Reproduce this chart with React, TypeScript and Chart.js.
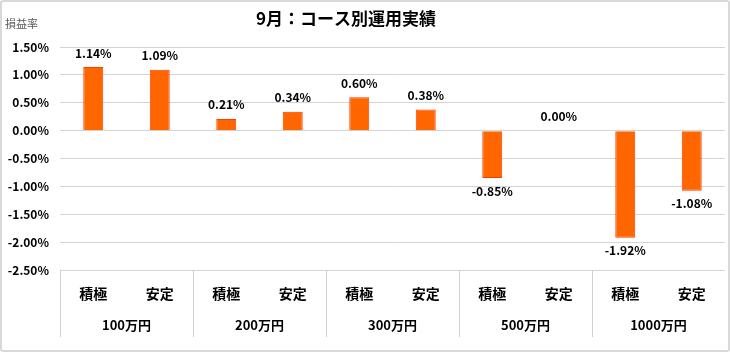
import React, { useEffect, useRef } from "react";
import { Chart, registerables } from "chart.js";

Chart.register(...registerables);

const chartTitle = "9月：コース別運用実績";
const yAxisTitle = "損益率";
const groups = ["100万円", "200万円", "300万円", "500万円", "1000万円"];
const courses = ["積極", "安定"];
const values = [1.14, 1.09, 0.21, 0.34, 0.6, 0.38, -0.85, 0.0, -1.92, -1.08];
const yMin = -2.5;
const yMax = 1.5;
const yStep = 0.5;

const FONT = "'Noto Sans CJK JP', 'Noto Sans', sans-serif";

const categories: string[] = [];
groups.forEach((g) => courses.forEach((c) => categories.push(g + "|" + c)));

const fmt = (v: number) => v.toFixed(2) + "%";

const overlayPlugin = {
  id: "overlay",
  afterDatasetsDraw(chart: any) {
    const ctx = chart.ctx;
    const meta = chart.getDatasetMeta(0);
    ctx.save();
    ctx.font = `bold 12px ${FONT}`;
    ctx.fillStyle = "#000";
    ctx.textAlign = "center";
    ctx.textBaseline = "middle";
    meta.data.forEach((bar: any, i: number) => {
      const v = values[i];
      const y = v >= 0 ? bar.y - 14 : bar.y + 13;
      ctx.fillText(fmt(v), bar.x, y);
    });
    ctx.restore();
  },
  afterDraw(chart: any) {
    const ctx = chart.ctx;
    const xs = chart.scales.x;
    const area = chart.chartArea;
    const step = xs.getPixelForValue(1) - xs.getPixelForValue(0);
    ctx.save();
    // separators
    ctx.strokeStyle = "#d0d0d0";
    ctx.lineWidth = 1;
    groups.forEach((g, i) => {
      const bx = Math.round(xs.getPixelForValue(i * courses.length) - step / 2) + 0.5;
      ctx.beginPath();
      ctx.moveTo(bx, area.bottom);
      ctx.lineTo(bx, area.bottom + 67);
      ctx.stroke();
    });
    // group labels
    ctx.font = `bold 13px ${FONT}`;
    ctx.fillStyle = "#000";
    ctx.textAlign = "center";
    ctx.textBaseline = "middle";
    groups.forEach((g, i) => {
      const a = xs.getPixelForValue(i * courses.length);
      const b = xs.getPixelForValue(i * courses.length + courses.length - 1);
      ctx.fillText(g, (a + b) / 2, area.bottom + 55);
    });
    // title
    ctx.font = `bold 17px ${FONT}`;
    ctx.fillText(chartTitle, 346, 19);
    // y axis title
    ctx.font = `11px ${FONT}`;
    ctx.fillStyle = "#595959";
    ctx.textAlign = "left";
    ctx.fillText(yAxisTitle, 5, 24);
    ctx.restore();
  },
};

export default function App() {
  const ref = useRef<HTMLCanvasElement>(null);
  useEffect(() => {
    if (!ref.current) return;
    const chart = new Chart(ref.current, {
      type: "bar",
      data: {
        labels: categories,
        datasets: [
          {
            data: values,
            backgroundColor: "#FF6600",
            borderColor: "#FF3C00",
            borderWidth: 1,
            categoryPercentage: 1,
            barPercentage: 0.3,
          },
        ],
      },
      options: {
        responsive: false,
        animation: false,
        layout: { padding: { top: 47, right: 5, left: 0, bottom: 0 } },
        plugins: {
          legend: { display: false },
          tooltip: { enabled: false },
          title: { display: false },
        },
        scales: {
          x: {
            type: "category",
            grid: { display: false, drawTicks: false },
            border: { display: false },
            ticks: {
              autoSkip: false,
              maxRotation: 0,
              padding: 15,
              color: "#000",
              font: { family: FONT, size: 14, weight: "bold" },
              callback: (v: any, i: number) => categories[i].split("|")[1],
            },
            afterFit: (s: any) => {
              s.height = 82;
            },
          },
          y: {
            min: yMin,
            max: yMax,
            grid: { color: "#d4d4d4", lineWidth: 1, drawTicks: false },
            border: { display: false },
            ticks: {
              stepSize: yStep,
              padding: 11,
              color: "#000",
              font: { family: FONT, size: 12, weight: "bold" },
              callback: (v: any) => fmt(Number(v)),
            },
            afterFit: (s: any) => {
              s.width = 60;
            },
          },
        },
      },
      plugins: [overlayPlugin],
    });
    return () => chart.destroy();
  }, []);
  return (
    <div style={{ position: "absolute", left: 0, top: 0, width: 730, height: 352, background: "#fff" }}>
      <canvas ref={ref} width={730} height={352} style={{ display: "block" }} />
      <div
        style={{
          position: "absolute",
          left: 0,
          top: 0,
          width: 730,
          height: 352,
          boxSizing: "border-box",
          border: "2px solid #d9d9d9",
          borderRadius: 3,
          pointerEvents: "none",
        }}
      />
    </div>
  );
}
